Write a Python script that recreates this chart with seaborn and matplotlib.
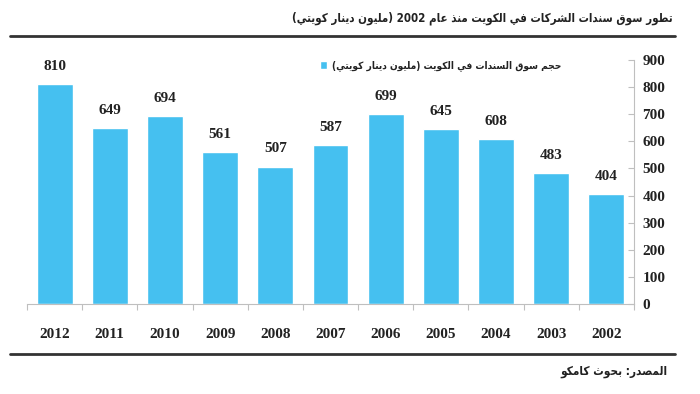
import matplotlib
matplotlib.use("Agg")
import matplotlib.pyplot as plt
from matplotlib.lines import Line2D
from matplotlib import font_manager
import seaborn as sns
import pandas as pd

years = ["2012", "2011", "2010", "2009", "2008", "2007", "2006", "2005", "2004", "2003", "2002"]
values = [810, 649, 694, 561, 507, 587, 699, 645, 608, 483, 404]
yticks = [0, 100, 200, 300, 400, 500, 600, 700, 800, 900]
title_text = "تطور سوق سندات الشركات في الكويت منذ عام 2002 (مليون دينار كويتي)"
legend_text = "حجم سوق السندات في الكويت (مليون دينار كويتي)"
source_text = "المصدر: بحوث كامكو"

DUAL = {
    'ب': 0xFE8F, 'ت': 0xFE95, 'ث': 0xFE99, 'ج': 0xFE9D, 'ح': 0xFEA1, 'خ': 0xFEA5,
    'س': 0xFEB1, 'ش': 0xFEB5, 'ص': 0xFEB9, 'ض': 0xFEBD, 'ط': 0xFEC1, 'ظ': 0xFEC5,
    'ع': 0xFEC9, 'غ': 0xFECD, 'ف': 0xFED1, 'ق': 0xFED5, 'ك': 0xFED9, 'ل': 0xFEDD,
    'م': 0xFEE1, 'ن': 0xFEE5, 'ه': 0xFEE9, 'ي': 0xFEF1,
}
RIGHT = {
    'ا': 0xFE8D, 'د': 0xFEA9, 'ذ': 0xFEAB, 'ر': 0xFEAD, 'ز': 0xFEAF, 'و': 0xFEED,
    'ى': 0xFEEF, 'ة': 0xFE93,
}


def is_ar(c):
    return c in DUAL or c in RIGHT


def shape(s):
    chars = list(s)
    out = []
    i = 0
    n = len(chars)
    while i < n:
        c = chars[i]
        prev = chars[i - 1] if i > 0 else ''
        prev_join = prev in DUAL
        if c == 'ل' and i + 1 < n and chars[i + 1] == 'ا':
            out.append(chr(0xFEFC if prev_join else 0xFEFB))
            i += 2
            continue
        nxt = chars[i + 1] if i + 1 < n else ''
        next_join = is_ar(nxt)
        if c in DUAL:
            b = DUAL[c]
            if prev_join and next_join:
                out.append(chr(b + 3))
            elif prev_join:
                out.append(chr(b + 1))
            elif next_join:
                out.append(chr(b + 2))
            else:
                out.append(chr(b))
        elif c in RIGHT:
            b = RIGHT[c]
            out.append(chr(b + 1) if prev_join else chr(b))
        else:
            out.append(c)
        i += 1
    vis = ''.join(out)[::-1]
    res = []
    run = ''
    for ch in vis:
        if ch.isdigit():
            run += ch
        else:
            if run:
                res.append(run[::-1])
                run = ''
            res.append({'(': ')', ')': '('}.get(ch, ch))
    if run:
        res.append(run[::-1])
    return ''.join(res)


BAR = "#45C0F0"
DARK = "#222222"
GRAY = "#BFBFBF"
SERIF = "Liberation Serif"

AR_FP = font_manager.FontProperties(family="DejaVu Sans", weight="bold", stretch="condensed")

sns.set_theme(style="white")
plt.rcParams['font.family'] = ['DejaVu Sans']

fig = plt.figure(figsize=(7.0, 3.94), dpi=100)
ax = fig.add_axes([27 / 700, 1 - 304 / 394, (634 - 27) / 700, (304 - 60) / 394])

df = pd.DataFrame({"year": years, "value": values})
sns.barplot(data=df, x="year", y="value", color=BAR, saturation=1, width=0.65,
            ax=ax, label=shape(legend_text))

ax.set_xlim(-0.5, len(years) - 0.5)
ax.set_ylim(0, 900)
ax.set_xlabel("")
ax.set_ylabel("")

for c in ax.containers:
    ax.bar_label(c, fmt="%d", padding=8, fontsize=11, fontweight="bold",
                 family=SERIF, color=DARK)

ax.yaxis.tick_right()
ax.set_yticks(yticks)
ax.set_yticklabels([str(v) for v in yticks], fontsize=11, fontweight="bold",
                   family=SERIF, color=DARK)
ax.tick_params(axis="y", which="major", direction="in", length=4, color=GRAY,
               width=0.8, pad=6, right=True, left=False)

ax.set_xticks(range(len(years)))
ax.set_xticklabels(years, fontsize=11, fontweight="bold", family=SERIF, color=DARK)
ax.set_xticks([i - 0.5 for i in range(len(years) + 1)], minor=True)
ax.tick_params(axis="x", which="major", length=0, pad=17)
ax.tick_params(axis="x", which="minor", direction="out", length=4, color=GRAY,
               width=0.8, bottom=True)

for side in ["top", "left"]:
    ax.spines[side].set_visible(False)
for side in ["right", "bottom"]:
    ax.spines[side].set_visible(True)
    ax.spines[side].set_color(GRAY)
    ax.spines[side].set_linewidth(0.8)
ax.grid(False)

leg_fp = AR_FP.copy()
leg_fp.set_size(7.3)
leg = ax.legend(loc="center left", bbox_to_anchor=(320 / 700, 1 - 66 / 394),
                bbox_transform=fig.transFigure, frameon=False,
                handlelength=0.7, handleheight=0.7, handletextpad=0.5,
                borderpad=0, borderaxespad=0, prop=leg_fp)
for t in leg.get_texts():
    t.set_color(DARK)

title_fp = AR_FP.copy()
title_fp.set_size(8.3)
fig.text(673 / 700, 1 - 18 / 394, shape(title_text), ha="right", va="center",
         fontproperties=title_fp, color=DARK)
fig.add_artist(Line2D([10 / 700, 675 / 700], [1 - 36 / 394] * 2,
                      color="#333333", linewidth=2))
fig.add_artist(Line2D([10 / 700, 675 / 700], [1 - 354 / 394] * 2,
                      color="#333333", linewidth=2))
src_fp = AR_FP.copy()
src_fp.set_size(8.5)
fig.text(667 / 700, 1 - 371 / 394, shape(source_text), ha="right", va="center",
         fontproperties=src_fp, color=DARK)

fig.savefig("out.png", dpi=100)
